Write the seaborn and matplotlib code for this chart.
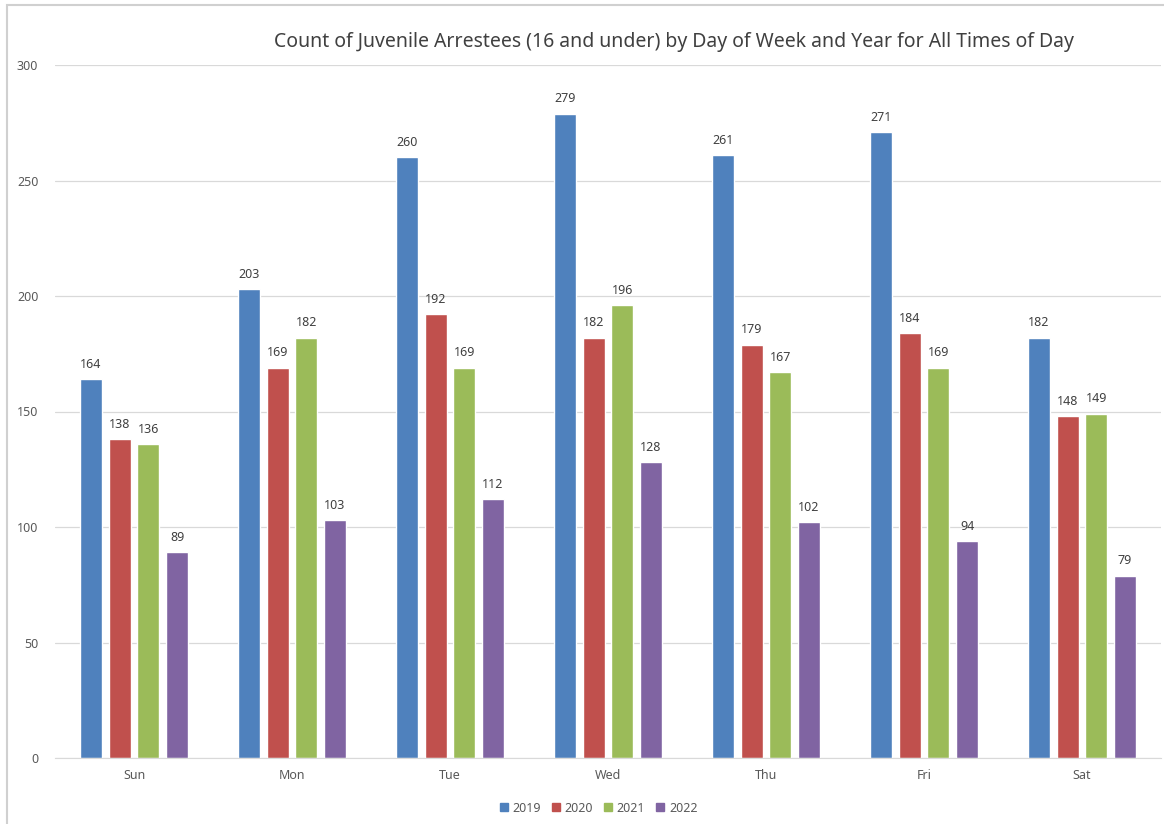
import pandas as pd
import matplotlib.pyplot as plt
import seaborn as sns
from matplotlib.patches import Rectangle

days = ['Sun', 'Mon', 'Tue', 'Wed', 'Thu', 'Fri', 'Sat']
years = ['2019', '2020', '2021', '2022']
counts_2019 = [164, 203, 260, 279, 261, 271, 182]
counts_2020 = [138, 169, 192, 182, 179, 184, 148]
counts_2021 = [136, 182, 169, 196, 167, 169, 149]
counts_2022 = [89, 103, 112, 128, 102, 94, 79]
colors = ['#4F81BD', '#C0504D', '#9BBB59', '#8064A2']

sns.set_style('white')
plt.rcParams['font.family'] = ['Noto Sans', 'DejaVu Sans']

rows = []
for yr, vals in zip(years, [counts_2019, counts_2020, counts_2021, counts_2022]):
    for d, v in zip(days, vals):
        rows.append({'Day': d, 'Year': yr, 'Count': v})
df = pd.DataFrame(rows)

fig = plt.figure(figsize=(11.64, 8.24), dpi=100)
ax = fig.add_axes([55 / 1164, 66 / 824, 1106 / 1164, 693 / 824])

sns.barplot(data=df, x='Day', y='Count', hue='Year', order=days, hue_order=years,
            palette=colors, width=0.727, gap=0.23, saturation=1, ax=ax, legend=True)

for c in ax.containers:
    ax.bar_label(c, padding=6, fontsize=9, color='#404040')

ax.set_ylim(0, 300)
ax.set_xlim(-0.5, 6.5)
ax.set_yticks(range(0, 301, 50))
ax.yaxis.grid(True, color='#D9D9D9', linewidth=0.9)
ax.set_axisbelow(True)
for s in ['top', 'right', 'left']:
    ax.spines[s].set_visible(False)
ax.spines['bottom'].set_color('#D9D9D9')
ax.tick_params(axis='both', length=0, labelsize=9, colors='#595959')
ax.tick_params(axis='x', pad=8)
ax.tick_params(axis='y', pad=12)
ax.set_xlabel('')
ax.set_ylabel('')

fig.text(674 / 1164, 1 - 42 / 824,
         'Count of Juvenile Arrestees (16 and under) by Day of Week and Year for All Times of Day',
         ha='center', va='center', fontsize=14, color='#404040')

ax.legend_.remove()
handles = [plt.Line2D([], [], marker='s', linestyle='', color=c, markersize=6) for c in colors]
fig.legend(handles, years, loc='center', bbox_to_anchor=(598 / 1164, 1 - 808 / 824),
           ncol=4, frameon=False, fontsize=9, handlelength=0.8, handletextpad=0.3,
           columnspacing=0.8, labelcolor='#595959')

# light frame of the chart area
fig.patches.append(Rectangle((7 / 1164, -0.05), 1.1, 1 - 5 / 824 + 0.05,
                             transform=fig.transFigure, fill=False,
                             edgecolor='#D0D0D0', linewidth=1.5))

fig.savefig('out.png', dpi=100, facecolor='white')
